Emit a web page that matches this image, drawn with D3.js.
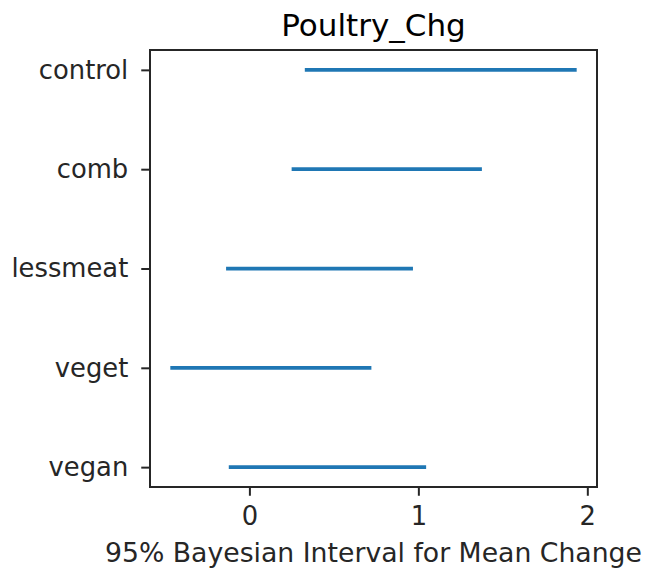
<!DOCTYPE html>
<html>
<head>
<meta charset="utf-8">
<script src="https://cdn.jsdelivr.net/npm/d3@7"></script>
<style>
  html, body { margin: 0; padding: 0; background: #fff; }
  svg { display: block; font-family: "DejaVu Sans", sans-serif; }
</style>
</head>
<body>
<svg id="chart" width="648" height="575"></svg>
<script>
// Groups, top to bottom
const groups = ["control", "comb", "lessmeat", "veget", "vegan"];
// 95% interval bounds for the mean change, per group
const lower = [0.328, 0.250, -0.138, -0.468, -0.122];
const upper = [1.937, 1.376, 0.968, 0.722, 1.046];
const xTicks = [0, 1, 2];

const titleText = "Poultry_Chg";
const xLabelText = "95% Bayesian Interval for Mean Change";

const svg = d3.select("#chart");
const plot = { left: 150, right: 597, top: 50, bottom: 487 };

// Data extent padded by 5% on each side
const lo = d3.min(lower), hi = d3.max(upper);
const padX = (hi - lo) * 0.05;
const x = d3.scaleLinear().domain([lo - padX, hi + padX]).range([plot.left, plot.right]);

const idx = groups.map((_, i) => i);
const y = d3.scaleLinear().domain([-0.2, groups.length - 1 + 0.2]).range([plot.top, plot.bottom]);

const ink = "#262626";
const tickSize = 25.8;
const labelSize = 26.7;

// Interval segments
svg.append("g").selectAll("line")
  .data(idx)
  .join("line")
  .attr("x1", i => x(lower[i]))
  .attr("x2", i => x(upper[i]))
  .attr("y1", i => y(i))
  .attr("y2", i => y(i))
  .attr("stroke", "#1f77b4")
  .attr("stroke-width", 3.75);

// Frame
svg.append("rect")
  .attr("x", plot.left).attr("y", plot.top)
  .attr("width", plot.right - plot.left).attr("height", plot.bottom - plot.top)
  .attr("fill", "none").attr("stroke", ink).attr("stroke-width", 2);

// Bottom axis
const xAxis = d3.axisBottom(x).tickValues(xTicks).tickFormat(d3.format("d"))
  .tickSizeInner(8.75).tickSizeOuter(0).tickPadding(7);
const gx = svg.append("g").attr("transform", `translate(0,${plot.bottom})`).call(xAxis);
gx.select(".domain").remove();
gx.selectAll(".tick line").attr("stroke", ink).attr("stroke-width", 2);
gx.selectAll(".tick text").attr("fill", ink).attr("font-size", tickSize)
  .attr("font-family", "DejaVu Sans").attr("dy", "0.86em");

// Left axis with group names
const yAxis = d3.axisLeft(y).tickValues(idx).tickFormat(i => groups[i])
  .tickSizeInner(8.75).tickSizeOuter(0).tickPadding(13);
const gy = svg.append("g").attr("transform", `translate(${plot.left},0)`).call(yAxis);
gy.select(".domain").remove();
gy.selectAll(".tick line").attr("stroke", ink).attr("stroke-width", 2);
gy.selectAll(".tick text").attr("fill", ink).attr("font-size", tickSize)
  .attr("font-family", "DejaVu Sans");

// Title
svg.append("text")
  .attr("x", (plot.left + plot.right) / 2).attr("y", 36)
  .attr("text-anchor", "middle").attr("font-size", 31).attr("fill", "#000")
  .text(titleText);

// X axis label
svg.append("text")
  .attr("x", (plot.left + plot.right) / 2).attr("y", 562)
  .attr("text-anchor", "middle").attr("font-size", labelSize).attr("fill", ink)
  .text(xLabelText);
</script>
</body>
</html>
